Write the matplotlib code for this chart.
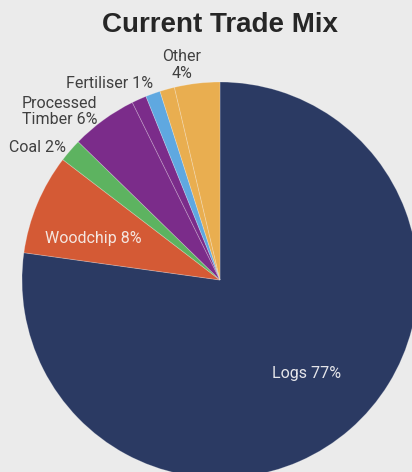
import matplotlib
matplotlib.use("Agg")
import matplotlib.pyplot as plt
import numpy as np

categories = ["Logs", "Woodchip", "Coal", "Processed Timber", "Processed Timber (other)",
              "Fertiliser", "Other (minor)", "Other"]
values = [77.2, 8.2, 1.9, 5.4, 1.2, 1.2, 1.2, 3.7]
show_label = [True, True, True, True, False, True, False, True]
label_text = ["Logs 77%", "Woodchip 8%", "Coal 2%", "Processed\nTimber 6%", "",
              "Fertiliser 1%", "", "Other\n4%"]
colors = ["#2b3a63", "#d45a35", "#5db360", "#7b2c8a", "#7b2c8a",
          "#5fa8e0", "#e9ae50", "#e9ae50"]

BG = "#ebebeb"
W, H = 412, 472
fig = plt.figure(figsize=(W / 100, H / 100), dpi=100, facecolor=BG)

cx, cy, r = 220, 280, 198
ax = fig.add_axes([(cx - r) / W, (H - cy - r) / H, 2 * r / W, 2 * r / H])
ax.set_facecolor(BG)

wedges, _ = ax.pie(values, colors=colors, startangle=90, counterclock=False,
                   wedgeprops=dict(edgecolor=(1, 1, 1, 0.25), linewidth=0.6),
                   radius=1.0)
ax.set_xlim(-1, 1)
ax.set_ylim(-1, 1)
ax.set_aspect("equal")
ax.axis("off")

# label placement in axes data units (pie radius = 1)
label_style = {
    0: dict(xy=(0.439, -0.470), ha="center", ma="center", color="#e6e6ea"),
    1: dict(xy=(-0.641, 0.212), ha="center", ma="center", color="#f4e6e0"),
    2: dict(xy=(-0.778, 0.667), ha="right", ma="center", color="#404040"),
    3: dict(xy=(-1.0, 0.851), ha="left", ma="left", color="#404040"),
    5: dict(xy=(-0.556, 0.990), ha="center", ma="center", color="#404040"),
    7: dict(xy=(-0.192, 1.086), ha="center", ma="center", color="#404040"),
}
for i, w in enumerate(wedges):
    if not show_label[i]:
        continue
    st = label_style[i]
    x, y = st["xy"]
    ax.text(x, y, label_text[i], ha=st["ha"], va="center", color=st["color"],
            multialignment=st["ma"],
            fontsize=11.5, family=["Roboto", "DejaVu Sans"], linespacing=1.1,
            clip_on=False)

fig.text(0.535, 1 - 25 / H, "Current Trade Mix", ha="center", va="center",
         fontsize=20, fontweight="bold", color="#262626",
         family=["Liberation Sans", "DejaVu Sans"])

fig.savefig("out.png", dpi=100, facecolor=BG)
